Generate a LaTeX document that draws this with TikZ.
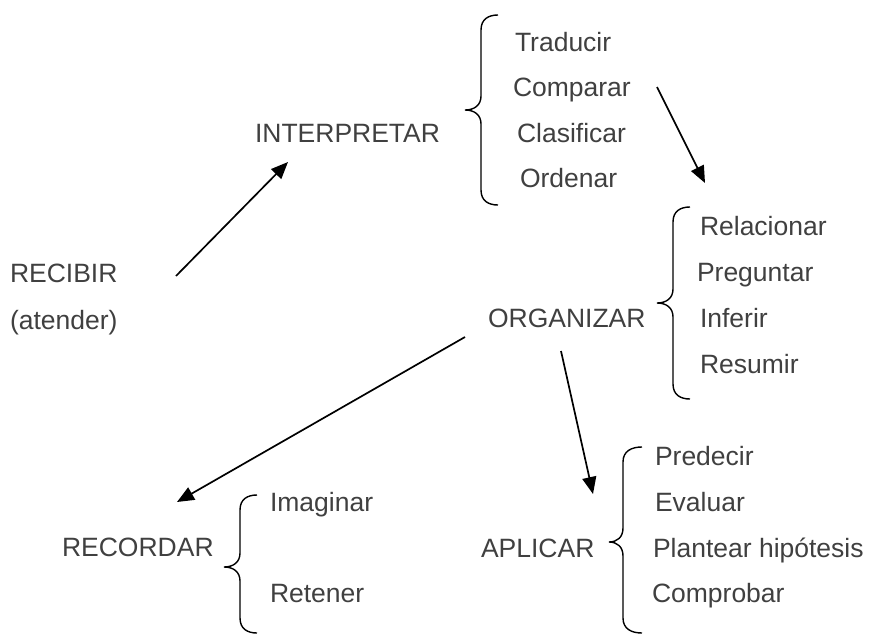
\documentclass[tikz,border=0pt]{standalone}
\usepackage{fontspec}
\setmainfont{Liberation Sans}
\usetikzlibrary{arrows.meta}
\definecolor{txt}{HTML}{404040}
\newcommand\curlybr[6]{% xe, xv, xt, ytop, ymid, ybot
  \draw[brc] (#1,#4) .. controls ({#2+0.45*(#1-#2)},#4) and (#2,{#4+4}) .. (#2,{#4+15})
    -- (#2,{#5-14}) .. controls (#2,{#5-5}) and ({#2-0.4*(#2-#3)},#5) .. (#3,#5)
    .. controls ({#2-0.4*(#2-#3)},#5) and (#2,{#5+5}) .. (#2,{#5+14})
    -- (#2,{#6-15}) .. controls (#2,{#6-4}) and ({#2+0.45*(#1-#2)},#6) .. (#1,#6);}
\begin{document}
\begin{tikzpicture}[x=1pt,y=-1pt,
  lbl/.style={anchor=base west,inner sep=0pt,outer sep=0pt,text=txt,
    font=\fontsize{26.5}{30}\selectfont},
  arr/.style={line width=1.7pt,-{Triangle[length=17pt,width=14pt]}},
  brc/.style={line width=1.4pt}]
\useasboundingbox (0,0) rectangle (870,635);
% main terms
\node[lbl] (recibir) at (10,282) {RECIBIR};
\node[lbl] (atender) at (10,329) {(atender)};
\node[lbl] (interp) at (255,142) {INTERPRETAR};
\node[lbl] (organ) at (488,327) {ORGANIZAR};
\node[lbl] (record) at (62,556) {RECORDAR};
\node[lbl] (aplic) at (481,557) {APLICAR};
% interpretar list
\node[lbl] (trad) at (515,51) {Traducir};
\node[lbl] (comp) at (513,96) {Comparar};
\node[lbl] (clas) at (517,142) {Clasificar};
\node[lbl] (orde) at (520,187) {Ordenar};
% organizar list
\node[lbl] (rela) at (700,235) {Relacionar};
\node[lbl] (preg) at (697,281) {Preguntar};
\node[lbl] (infe) at (700,327) {Inferir};
\node[lbl] (resu) at (700,373) {Resumir};
% recordar list
\node[lbl] (imag) at (270,511) {Imaginar};
\node[lbl] (rete) at (270,602) {Retener};
% aplicar list
\node[lbl] (pred) at (655,465) {Predecir};
\node[lbl] (eval) at (655,511) {Evaluar};
\node[lbl] (plan) at (653,557) {Plantear hipótesis};
\node[lbl] (comb) at (652,602) {Comprobar};
% braces
\curlybr{498}{481}{465}{15}{110}{205}
\curlybr{690}{673}{657}{207}{303}{399}
\curlybr{257}{240}{224}{495}{567}{633}
\curlybr{642}{623}{609}{447}{542}{633}
% arrow ends
\coordinate (a1s) at (176,276); \coordinate (a1e) at (288,162);
\coordinate (a2s) at (657,87);  \coordinate (a2e) at (705,183);
\coordinate (a3s) at (465,337); \coordinate (a3e) at (177,502);
\coordinate (a4s) at (561,351); \coordinate (a4e) at (593,494);
\draw[arr] (a1s) -- (a1e);
\draw[arr] (a2s) -- (a2e);
\draw[arr] (a3s) -- (a3e);
\draw[arr] (a4s) -- (a4e);
\end{tikzpicture}
\end{document}
